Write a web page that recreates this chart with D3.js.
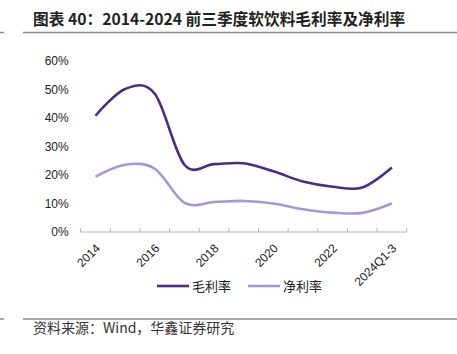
<!DOCTYPE html>
<html>
<head>
<meta charset="utf-8">
<script src="https://cdn.jsdelivr.net/npm/d3@7"></script>
<style>
  body { margin: 0; background: #fff; }
  svg { display: block; }
</style>
</head>
<body>
<div id="chart"></div>
<script>
// Data
const categories = ["2014", "2015", "2016", "2017", "2018", "2019", "2020", "2021", "2022", "2023", "2024Q1-3"]
const grossMargin = [40.8, 50.2, 48.5, 23.6, 23.8, 24.1, 21.3, 17.7, 15.9, 15.6, 22.6]
const netMargin = [19.4, 23.6, 22.2, 10.2, 10.5, 10.9, 10.0, 8.0, 6.8, 6.7, 10.0]
const yTicks = [0, 10, 20, 30, 40, 50, 60]
const seriesNames = ["毛利率", "净利率"]

const WIDTH = 457
const HEIGHT = 354
const PLOT = {LEFT: 80.7, RIGHT: 406.7, TOP: 61, BOTTOM: 232}
const COLORS = ["#4b2b88", "#a895d5"]

let svg = d3.select("#chart").append("svg")
    .attr("width", WIDTH)
    .attr("height", HEIGHT)

// Title and separator lines
svg.append("text")
    .attr("x", 33).attr("y", 25)
    .style("font-family", "'Noto Sans CJK SC', sans-serif")
    .style("font-weight", "bold")
    .style("font-size", "15.7px")
    .style("fill", "#222")
    .text("图表 40：2014-2024 前三季度软饮料毛利率及净利率")

function rule(y) {
    svg.append("line").attr("x1", 23).attr("x2", WIDTH).attr("y1", y).attr("y2", y)
        .style("stroke", "#8c8c8c").style("stroke-width", 1.5)
    svg.append("line").attr("x1", 0).attr("x2", 4).attr("y1", y).attr("y2", y)
        .style("stroke", "#8c8c8c").style("stroke-width", 1.5)
}
rule(32.5)
rule(319)

svg.append("text")
    .attr("x", 33).attr("y", 333)
    .style("font-family", "'Noto Sans CJK SC', sans-serif")
    .style("font-size", "14px")
    .style("fill", "#333")
    .text("资料来源：Wind，华鑫证券研究")

// Scales
let xScale = d3.scaleBand()
    .domain(categories)
    .range([PLOT.LEFT, PLOT.RIGHT])

let yScale = d3.scaleLinear()
    .domain([0, 60])
    .range([PLOT.BOTTOM, PLOT.TOP])

// Y axis labels only
let yAxis = svg.append("g")
    .attr("transform", "translate(" + PLOT.LEFT + ",0)")
    .call(d3.axisLeft(yScale).tickValues(yTicks).tickSize(0).tickPadding(12).tickFormat(d => d + "%"))
yAxis.select(".domain").remove()
yAxis.selectAll("text")
    .style("font-family", "'Liberation Sans', Arial, sans-serif")
    .style("font-size", "12px")
    .style("fill", "#222")

// X axis: tick marks on band edges, labels every other category
let edges = categories.map(c => xScale(c)).concat([PLOT.RIGHT])
let xAxis = svg.append("g")
    .attr("transform", "translate(0," + PLOT.BOTTOM + ")")
xAxis.append("line")
    .attr("x1", PLOT.LEFT).attr("x2", PLOT.RIGHT)
    .style("stroke", "#b3b3b3").style("stroke-width", 1)
xAxis.selectAll(".tick")
    .data(edges)
    .enter().append("line")
    .attr("x1", d => d).attr("x2", d => d)
    .attr("y1", 0).attr("y2", -4)
    .style("stroke", "#b3b3b3").style("stroke-width", 1)
xAxis.selectAll(".label")
    .data(categories.filter((c, i) => i % 2 == 0))
    .enter().append("text")
    .attr("text-anchor", "end")
    .attr("transform", d => "translate(" + (xScale(d) + xScale.bandwidth() / 2 - 0.5) + ",11) rotate(-45)")
    .attr("dy", "0.7em")
    .style("font-family", "'Liberation Sans', Arial, sans-serif")
    .style("font-size", "12px")
    .style("fill", "#222")
    .text(d => d)

// Lines (smoothed like the source chart)
let line = d3.line()
    .x((d, i) => xScale(categories[i]) + xScale.bandwidth() / 2)
    .y(d => yScale(d))
    .curve(d3.curveCardinal.tension(0))

;[grossMargin, netMargin].forEach((series, k) => {
    svg.append("path")
        .datum(series)
        .attr("d", line)
        .style("fill", "none")
        .style("stroke", COLORS[k])
        .style("stroke-width", 2.6)
})

// Legend
const legendX = [157, 248]
seriesNames.forEach((name, k) => {
    svg.append("line")
        .attr("x1", legendX[k]).attr("x2", legendX[k] + 32)
        .attr("y1", 286).attr("y2", 286)
        .style("stroke", COLORS[k]).style("stroke-width", 2.6)
    svg.append("text")
        .attr("x", legendX[k] + 35).attr("y", 291)
        .style("font-family", "'Noto Sans CJK SC', sans-serif")
        .style("font-size", "13px")
        .style("fill", "#222")
        .text(name)
})
</script>
</body>
</html>
